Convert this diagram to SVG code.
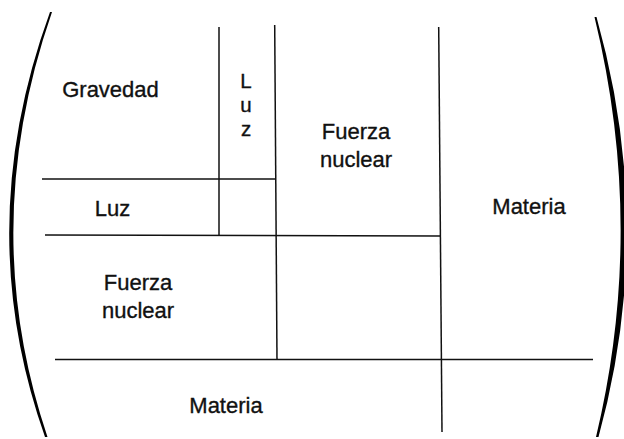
<svg xmlns="http://www.w3.org/2000/svg" width="624" height="439" viewBox="0 0 624 439">
<style>
.ln{stroke:#111;stroke-width:1.5;fill:none;stroke-linecap:butt}
.pr{fill:#000;stroke:none}
.t{font-family:"Liberation Sans",Arial,sans-serif;font-size:22px;fill:#111;stroke:#111;stroke-width:0.35;text-anchor:middle}
.v{font-size:20.5px}
</style>
<rect width="624" height="439" fill="#fff"/>
<g id="brackets">
<path class="pr" d="M50,12 Q-29,228 45,437 L47.5,437 Q-23,228 52,12 Z"/>
<path class="pr" d="M594.5,17 Q646,228 596,437 L598.5,437 Q656,228 596.5,17 Z"/>
</g>
<g id="connectors">
<line class="ln" x1="219" y1="27" x2="219" y2="235"/>
<line class="ln" x1="274.7" y1="25" x2="277" y2="360"/>
<line class="ln" x1="438.7" y1="27" x2="442" y2="432"/>
<line class="ln" x1="42" y1="179" x2="275.5" y2="179"/>
<line class="ln" x1="45" y1="235" x2="441" y2="236"/>
<line class="ln" x1="55" y1="359.5" x2="593" y2="359.5"/>
</g>
<g id="gravedad"><text class="t" x="110.5" y="96.5">Gravedad</text></g>
<g id="luz-vertical">
<text class="t v" x="246" y="88">L</text>
<text class="t v" x="246" y="112">u</text>
<text class="t v" x="246" y="135.5">z</text>
</g>
<g id="luz"><text class="t" x="112.5" y="215.5">Luz</text></g>
<g id="fuerza-nuclear-top">
<text class="t" x="356" y="138.5">Fuerza</text>
<text class="t" x="356" y="166.5">nuclear</text>
</g>
<g id="materia-right"><text class="t" x="529" y="214">Materia</text></g>
<g id="fuerza-nuclear-left">
<text class="t" x="138" y="290">Fuerza</text>
<text class="t" x="138" y="318">nuclear</text>
</g>
<g id="materia-bottom"><text class="t" x="226" y="413">Materia</text></g>
</svg>
